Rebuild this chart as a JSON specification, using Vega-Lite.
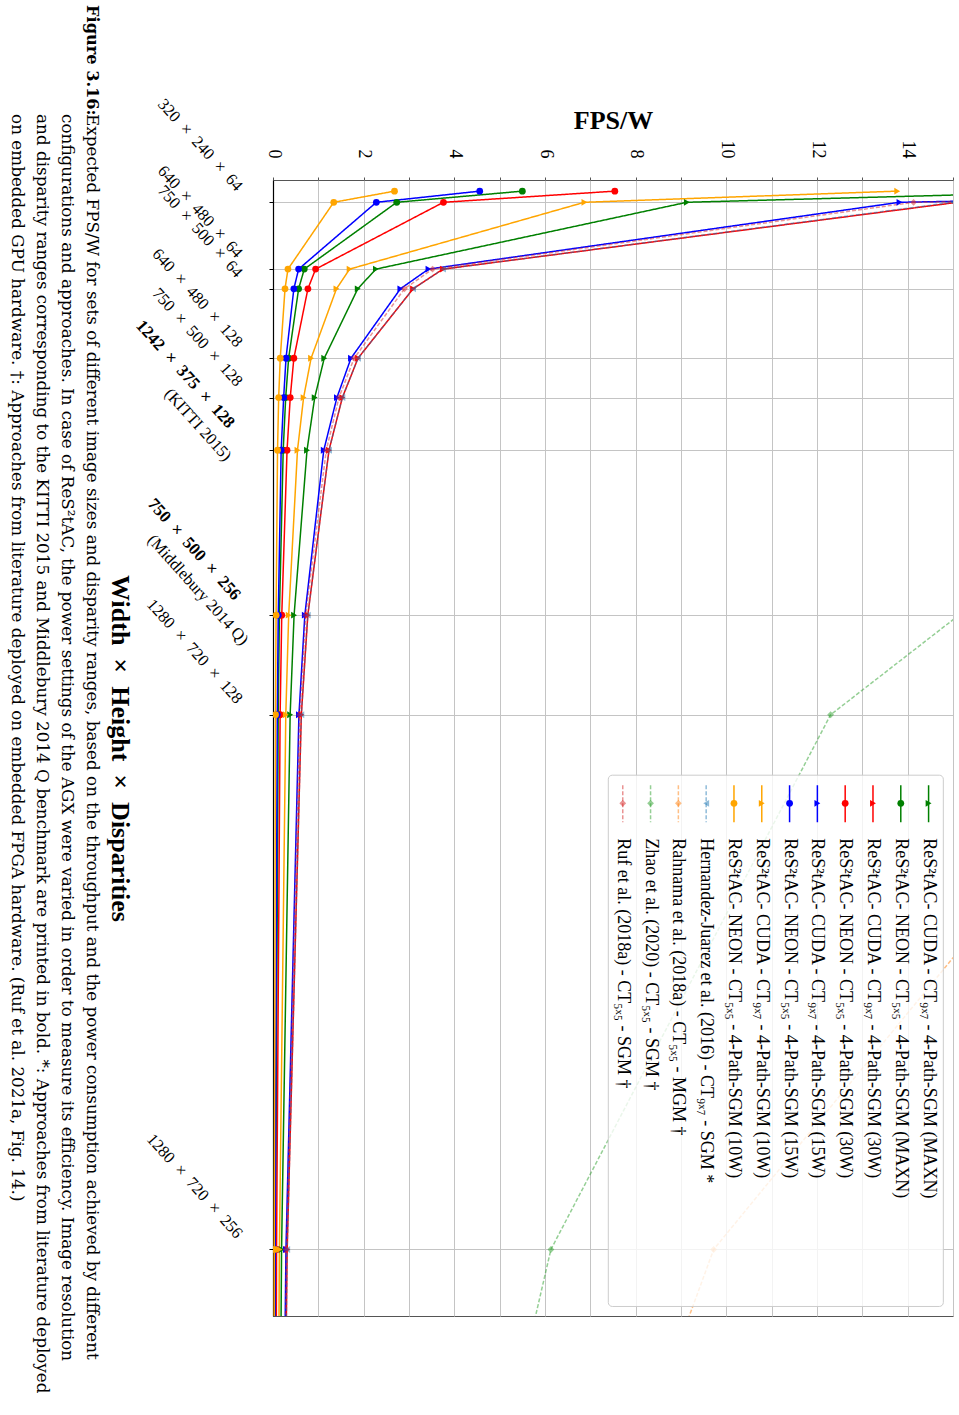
{
  "$schema": "https://vega.github.io/schema/vega-lite/v6.json",
  "width": 680,
  "height": 1136,
  "autosize": {"type": "none"},
  "padding": {"left": 273, "top": 180, "right": 6, "bottom": 99},
  "background": "white",
  "config": {
    "view": {"stroke": "#555555", "strokeWidth": 1},
    "font": "Liberation Serif"
  },
  "title": {
    "text": "Figure 3.16:",
    "subtitle": [
      "\u200b\u2002\u2002\u2002\u2002\u2002\u2002\u2002\u2002\u2002\u2002\u2002\u2002\u2002Expected FPS/W for sets of different image sizes and disparity ranges, based on the throughput and the power consumption achieved by different",
      "\u200b\u2002\u2002\u2002\u2002\u2002\u2002\u2002\u2002\u2002\u2002\u2002\u2002\u2002configurations and approaches. In case of ReS\u00b2tAC, the power settings of the AGX were varied in order to measure its efficiency. Image resolution",
      "\u200b\u2002\u2002\u2002\u2002\u2002\u2002\u2002\u2002\u2002\u2002\u2002\u2002\u2002and disparity ranges corresponding to the KITTI 2015 and Middlebury 2014 Q benchmark are printed in bold. *: Approaches from literature deployed",
      "\u200b\u2002\u2002\u2002\u2002\u2002\u2002\u2002\u2002\u2002\u2002\u2002\u2002\u2002on embedded GPU hardware. \u2020: Approaches from literature deployed on embedded FPGA hardware. (Ruf et al. 2021a, Fig. 14.)"
    ],
    "orient": "left",
    "anchor": "end",
    "align": "left",
    "angle": 90,
    "frame": "group",
    "dx": -175,
    "offset": -85,
    "font": "DejaVu Serif",
    "fontSize": 16.2,
    "fontWeight": "bold",
    "color": "black",
    "subtitleFont": "DejaVu Serif",
    "subtitleFontSize": 16.8,
    "subtitleColor": "black",
    "subtitleLineHeight": 25,
    "subtitlePadding": -16
  },
  "datasets": {
    "main": [
      {"s": "cuda_maxn", "d": 2.4576, "v": 18.2},
      {"s": "cuda_maxn", "d": 4.9152, "v": 9.13},
      {"s": "cuda_maxn", "d": 19.6608, "v": 2.27},
      {"s": "cuda_maxn", "d": 24, "v": 1.87},
      {"s": "cuda_maxn", "d": 39.3216, "v": 1.13},
      {"s": "cuda_maxn", "d": 48, "v": 0.92},
      {"s": "cuda_maxn", "d": 59.616, "v": 0.75},
      {"s": "cuda_maxn", "d": 96, "v": 0.465},
      {"s": "cuda_maxn", "d": 117.9648, "v": 0.378},
      {"s": "cuda_maxn", "d": 235.9296, "v": 0.189},
      {"s": "cuda_maxn", "d": 265.4208, "v": 0.168},
      {"s": "neon_maxn", "d": 2.4576, "v": 5.5},
      {"s": "neon_maxn", "d": 4.9152, "v": 2.73},
      {"s": "neon_maxn", "d": 19.6608, "v": 0.69},
      {"s": "neon_maxn", "d": 24, "v": 0.565},
      {"s": "neon_maxn", "d": 39.3216, "v": 0.345},
      {"s": "neon_maxn", "d": 48, "v": 0.28},
      {"s": "neon_maxn", "d": 59.616, "v": 0.225},
      {"s": "neon_maxn", "d": 96, "v": 0.141},
      {"s": "neon_maxn", "d": 117.9648, "v": 0.115},
      {"s": "neon_maxn", "d": 235.9296, "v": 0.0575},
      {"s": "neon_maxn", "d": 265.4208, "v": 0.051},
      {"s": "cuda_30", "d": 2.4576, "v": 30.0},
      {"s": "cuda_30", "d": 4.9152, "v": 15.1},
      {"s": "cuda_30", "d": 19.6608, "v": 3.75},
      {"s": "cuda_30", "d": 24, "v": 3.09},
      {"s": "cuda_30", "d": 39.3216, "v": 1.875},
      {"s": "cuda_30", "d": 48, "v": 1.53},
      {"s": "cuda_30", "d": 59.616, "v": 1.235},
      {"s": "cuda_30", "d": 96, "v": 0.768},
      {"s": "cuda_30", "d": 117.9648, "v": 0.625},
      {"s": "cuda_30", "d": 235.9296, "v": 0.3125},
      {"s": "cuda_30", "d": 265.4208, "v": 0.278},
      {"s": "neon_30", "d": 2.4576, "v": 7.54},
      {"s": "neon_30", "d": 4.9152, "v": 3.76},
      {"s": "neon_30", "d": 19.6608, "v": 0.94},
      {"s": "neon_30", "d": 24, "v": 0.77},
      {"s": "neon_30", "d": 39.3216, "v": 0.46},
      {"s": "neon_30", "d": 48, "v": 0.38},
      {"s": "neon_30", "d": 59.616, "v": 0.31},
      {"s": "neon_30", "d": 96, "v": 0.193},
      {"s": "neon_30", "d": 117.9648, "v": 0.157},
      {"s": "neon_30", "d": 235.9296, "v": 0.078},
      {"s": "neon_30", "d": 265.4208, "v": 0.07},
      {"s": "cuda_15", "d": 2.4576, "v": 27.5},
      {"s": "cuda_15", "d": 4.9152, "v": 13.82},
      {"s": "cuda_15", "d": 19.6608, "v": 3.43},
      {"s": "cuda_15", "d": 24, "v": 2.81},
      {"s": "cuda_15", "d": 39.3216, "v": 1.72},
      {"s": "cuda_15", "d": 48, "v": 1.41},
      {"s": "cuda_15", "d": 59.616, "v": 1.12},
      {"s": "cuda_15", "d": 96, "v": 0.702},
      {"s": "cuda_15", "d": 117.9648, "v": 0.572},
      {"s": "cuda_15", "d": 235.9296, "v": 0.286},
      {"s": "cuda_15", "d": 265.4208, "v": 0.254},
      {"s": "neon_15", "d": 2.4576, "v": 4.56},
      {"s": "neon_15", "d": 4.9152, "v": 2.28},
      {"s": "neon_15", "d": 19.6608, "v": 0.565},
      {"s": "neon_15", "d": 24, "v": 0.46},
      {"s": "neon_15", "d": 39.3216, "v": 0.287},
      {"s": "neon_15", "d": 48, "v": 0.235},
      {"s": "neon_15", "d": 59.616, "v": 0.18},
      {"s": "neon_15", "d": 96, "v": 0.116},
      {"s": "neon_15", "d": 117.9648, "v": 0.094},
      {"s": "neon_15", "d": 235.9296, "v": 0.047},
      {"s": "neon_15", "d": 265.4208, "v": 0.042},
      {"s": "cuda_10", "d": 2.4576, "v": 13.77},
      {"s": "cuda_10", "d": 4.9152, "v": 6.87},
      {"s": "cuda_10", "d": 19.6608, "v": 1.69},
      {"s": "cuda_10", "d": 24, "v": 1.4},
      {"s": "cuda_10", "d": 39.3216, "v": 0.84},
      {"s": "cuda_10", "d": 48, "v": 0.675},
      {"s": "cuda_10", "d": 59.616, "v": 0.54},
      {"s": "cuda_10", "d": 96, "v": 0.346},
      {"s": "cuda_10", "d": 117.9648, "v": 0.282},
      {"s": "cuda_10", "d": 235.9296, "v": 0.141},
      {"s": "cuda_10", "d": 265.4208, "v": 0.125},
      {"s": "neon_10", "d": 2.4576, "v": 2.68},
      {"s": "neon_10", "d": 4.9152, "v": 1.34},
      {"s": "neon_10", "d": 19.6608, "v": 0.33},
      {"s": "neon_10", "d": 24, "v": 0.265},
      {"s": "neon_10", "d": 39.3216, "v": 0.16},
      {"s": "neon_10", "d": 48, "v": 0.125},
      {"s": "neon_10", "d": 59.616, "v": 0.1},
      {"s": "neon_10", "d": 96, "v": 0.068},
      {"s": "neon_10", "d": 117.9648, "v": 0.055},
      {"s": "neon_10", "d": 235.9296, "v": 0.0275},
      {"s": "neon_10", "d": 265.4208, "v": 0.024},
      {"s": "hernandez", "d": 2.4576, "v": 30.0},
      {"s": "hernandez", "d": 4.9152, "v": 15.0},
      {"s": "hernandez", "d": 19.6608, "v": 3.75},
      {"s": "hernandez", "d": 24, "v": 3.09},
      {"s": "hernandez", "d": 39.3216, "v": 1.875},
      {"s": "hernandez", "d": 48, "v": 1.53},
      {"s": "hernandez", "d": 59.616, "v": 1.235},
      {"s": "hernandez", "d": 96, "v": 0.768},
      {"s": "hernandez", "d": 117.9648, "v": 0.625},
      {"s": "hernandez", "d": 235.9296, "v": 0.3125},
      {"s": "hernandez", "d": 265.4208, "v": 0.278},
      {"s": "rahnama", "d": 117.9648, "v": 19.4},
      {"s": "rahnama", "d": 235.9296, "v": 9.72},
      {"s": "rahnama", "d": 265.4208, "v": 8.64},
      {"s": "zhao", "d": 96, "v": 15.13},
      {"s": "zhao", "d": 117.9648, "v": 12.3},
      {"s": "zhao", "d": 235.9296, "v": 6.13},
      {"s": "zhao", "d": 265.4208, "v": 5.45},
      {"s": "ruf", "d": 2.4576, "v": 28.2},
      {"s": "ruf", "d": 4.9152, "v": 14.13},
      {"s": "ruf", "d": 19.6608, "v": 3.52},
      {"s": "ruf", "d": 24, "v": 2.9},
      {"s": "ruf", "d": 39.3216, "v": 1.79},
      {"s": "ruf", "d": 48, "v": 1.455},
      {"s": "ruf", "d": 59.616, "v": 1.175},
      {"s": "ruf", "d": 96, "v": 0.721},
      {"s": "ruf", "d": 117.9648, "v": 0.587},
      {"s": "ruf", "d": 235.9296, "v": 0.293},
      {"s": "ruf", "d": 265.4208, "v": 0.26}
    ],
    "legend": [
      {"s": "cuda_maxn", "k": 1, "label": "ReS\u00b2tAC- CUDA - CT\u2089\u2093\u2087 - 4-Path-SGM (MAXN)"},
      {"s": "neon_maxn", "k": 2, "label": "ReS\u00b2tAC- NEON - CT\u2085\u2093\u2085 - 4-Path-SGM (MAXN)"},
      {"s": "cuda_30", "k": 3, "label": "ReS\u00b2tAC- CUDA - CT\u2089\u2093\u2087 - 4-Path-SGM (30W)"},
      {"s": "neon_30", "k": 4, "label": "ReS\u00b2tAC- NEON - CT\u2085\u2093\u2085 - 4-Path-SGM (30W)"},
      {"s": "cuda_15", "k": 5, "label": "ReS\u00b2tAC- CUDA - CT\u2089\u2093\u2087 - 4-Path-SGM (15W)"},
      {"s": "neon_15", "k": 6, "label": "ReS\u00b2tAC- NEON - CT\u2085\u2093\u2085 - 4-Path-SGM (15W)"},
      {"s": "cuda_10", "k": 7, "label": "ReS\u00b2tAC- CUDA - CT\u2089\u2093\u2087 - 4-Path-SGM (10W)"},
      {"s": "neon_10", "k": 8, "label": "ReS\u00b2tAC- NEON - CT\u2085\u2093\u2085 - 4-Path-SGM (10W)"},
      {"s": "hernandez", "k": 9, "label": "Hernandez-Juarez et al. (2016) - CT\u2089\u2093\u2087 - SGM *"},
      {"s": "rahnama", "k": 10, "label": "Rahnama et al. (2018a) - CT\u2085\u2093\u2085 - MGM \u2020"},
      {"s": "zhao", "k": 11, "label": "Zhao et al. (2020) - CT\u2085\u2093\u2085 - SGM \u2020"},
      {"s": "ruf", "k": 12, "label": "Ruf et al. (2018a) - CT\u2085\u2093\u2085 - SGM \u2020"}
    ]
  },
  "resolve": {"scale": {"x": "independent"}, "axis": {"x": "independent", "y": "independent"}},
  "layer": [
    {
      "data": {"name": "main"},
      "encoding": {
        "x": {
          "field": "v", "type": "quantitative",
          "scale": {"domain": [0, 15], "nice": false, "zero": false},
          "axis": {
            "orient": "top",
            "values": [0, 1, 2, 3, 4, 5, 6, 7, 8, 9, 10, 11, 12, 13, 14, 15],
            "labelExpr": "datum.value % 2 === 0 && datum.value < 15 ? datum.label : ''",
            "labelAngle": 90, "labelAlign": "right", "labelBaseline": "middle",
            "labelFont": "Liberation Serif", "labelFontSize": 18, "labelColor": "black",
            "labelPadding": 19, "labelFlush": false, "labelOverlap": false, "labelBound": false,
            "tickSize": 3, "tickColor": "#555555",
            "domain": false,
            "grid": true, "gridColor": "#c4c4c4", "gridWidth": 1,
            "title": "FPS/W", "titleFont": "Liberation Serif", "titleFontSize": 26,
            "titleFontWeight": "bold", "titleColor": "black", "titlePadding": 7
          }
        },
        "y": {
          "field": "d", "type": "quantitative",
          "scale": {"domain": [0, 250.6], "nice": false, "zero": false, "reverse": true},
          "axis": {
            "orient": "left",
            "values": [4.9152, 19.6608, 24, 39.3216, 48, 59.616, 96, 117.9648, 235.9296],
            "labelExpr": "datum.value < 10 ? '320\u2002\u00d7\u2002240\u2002\u00d7\u200264' : datum.value < 20 ? '640\u2002\u00d7\u2002480\u2002\u00d7\u200264' : datum.value < 30 ? '750\u2002\u00d7\u2002500\u2002\u00d7\u200264' : datum.value < 40 ? '640\u2002\u00d7\u2002480\u2002\u00d7\u2002128' : datum.value < 50 ? '750\u2002\u00d7\u2002500\u2002\u00d7\u2002128' : datum.value < 100 ? '' : datum.value < 200 ? '1280\u2002\u00d7\u2002720\u2002\u00d7\u2002128' : '1280\u2002\u00d7\u2002720\u2002\u00d7\u2002256'",
            "labelAngle": 48, "labelAlign": "right", "labelBaseline": "middle",
            "labelFont": "Liberation Serif", "labelFontSize": 16.5, "labelColor": "black",
            "labelPadding": 30, "labelOffset": -14,
            "labelFlush": false, "labelOverlap": false, "labelBound": false, "labelLimit": 0,
            "tickSize": 4, "tickColor": "black",
            "domain": true, "domainColor": "black", "domainWidth": 1.2,
            "grid": true, "gridColor": "#c4c4c4", "gridWidth": 1,
            "title": "Width\u2002\u00d7\u2002Height\u2002\u00d7\u2002Disparities", "titleAngle": 90,
            "titleFont": "Liberation Serif", "titleFontSize": 26, "titleFontWeight": "bold",
            "titleColor": "black", "titlePadding": 36
          }
        }
      },
      "layer": [
        {
          "mark": {"type": "line", "clip": true, "strokeWidth": 1.5},
          "encoding": {
            "color": {"field": "s", "type": "nominal", "legend": null,
              "scale": {"domain": ["cuda_maxn", "neon_maxn", "cuda_30", "neon_30", "cuda_15", "neon_15", "cuda_10", "neon_10", "hernandez", "rahnama", "zhao", "ruf"],
                "range": ["#008000", "#008000", "#ff0000", "#ff0000", "#0000ff", "#0000ff", "#ffa500", "#ffa500", "rgba(31,119,180,0.5)", "rgba(255,127,14,0.5)", "rgba(44,160,44,0.5)", "rgba(214,39,40,0.5)"]}},
            "strokeDash": {"field": "s", "type": "nominal", "legend": null,
              "scale": {"domain": ["cuda_maxn", "neon_maxn", "cuda_30", "neon_30", "cuda_15", "neon_15", "cuda_10", "neon_10", "hernandez", "rahnama", "zhao", "ruf"],
                "range": [[1, 0], [1, 0], [1, 0], [1, 0], [1, 0], [1, 0], [1, 0], [1, 0], [4, 2], [4, 2], [4, 2], [4, 2]]}},
            "order": {"field": "d", "type": "quantitative"}
          }
        },
        {
          "mark": {"type": "point", "clip": true, "filled": true, "size": 46, "opacity": 1},
          "encoding": {
            "color": {"field": "s", "type": "nominal", "legend": null},
            "shape": {"field": "s", "type": "nominal", "legend": null,
              "scale": {"domain": ["cuda_maxn", "neon_maxn", "cuda_30", "neon_30", "cuda_15", "neon_15", "cuda_10", "neon_10", "hernandez", "rahnama", "zhao", "ruf"],
                "range": ["triangle-right", "circle", "triangle-right", "circle", "triangle-right", "circle", "triangle-right", "circle", "triangle-left", "diamond", "diamond", "diamond"]}}
          }
        }
      ]
    },
    {
      "data": {"values": [{"d": 59.616}]},
      "mark": {"type": "rule", "opacity": 0},
      "encoding": {
        "y": {
          "field": "d", "type": "quantitative",
          "axis": {
            "orient": "left", "values": [59.616], "labelExpr": "'1242\u2002\u00d7\u2002375\u2002\u00d7\u2002128'",
            "labelAngle": 48, "labelAlign": "right", "labelBaseline": "middle",
            "labelFont": "Liberation Serif", "labelFontSize": 17, "labelFontWeight": "bold", "labelColor": "black",
            "labelPadding": 42, "labelOffset": -25,
            "labelFlush": false, "labelOverlap": false, "labelBound": false, "labelLimit": 0,
            "ticks": false, "domain": false, "grid": false, "title": null
          }
        }
      }
    },
    {
      "data": {"values": [{"d": 59.616}]},
      "mark": {"type": "rule", "opacity": 0},
      "encoding": {
        "y": {
          "field": "d", "type": "quantitative",
          "axis": {
            "orient": "left", "values": [59.616], "labelExpr": "'(KITTI 2015)'",
            "labelAngle": 48, "labelAlign": "right", "labelBaseline": "middle",
            "labelFont": "Liberation Serif", "labelFontSize": 16.5, "labelColor": "black",
            "labelPadding": 45, "labelOffset": 8,
            "labelFlush": false, "labelOverlap": false, "labelBound": false, "labelLimit": 0,
            "ticks": false, "domain": false, "grid": false, "title": null
          }
        }
      }
    },
    {
      "data": {"values": [{"d": 96}]},
      "mark": {"type": "rule", "opacity": 0},
      "encoding": {
        "y": {
          "field": "d", "type": "quantitative",
          "axis": {
            "orient": "left", "values": [96], "labelExpr": "'750\u2002\u00d7\u2002500\u2002\u00d7\u2002256'",
            "labelAngle": 48, "labelAlign": "right", "labelBaseline": "middle",
            "labelFont": "Liberation Serif", "labelFontSize": 17, "labelFontWeight": "bold", "labelColor": "black",
            "labelPadding": 36, "labelOffset": -18,
            "labelFlush": false, "labelOverlap": false, "labelBound": false, "labelLimit": 0,
            "ticks": false, "domain": false, "grid": false, "title": null
          }
        }
      }
    },
    {
      "data": {"values": [{"d": 96}]},
      "mark": {"type": "rule", "opacity": 0},
      "encoding": {
        "y": {
          "field": "d", "type": "quantitative",
          "axis": {
            "orient": "left", "values": [96], "labelExpr": "'(Middlebury 2014 Q)'",
            "labelAngle": 48, "labelAlign": "right", "labelBaseline": "middle",
            "labelFont": "Liberation Serif", "labelFontSize": 16.5, "labelColor": "black",
            "labelPadding": 28, "labelOffset": 27,
            "labelFlush": false, "labelOverlap": false, "labelBound": false, "labelLimit": 0,
            "ticks": false, "domain": false, "grid": false, "title": null
          }
        }
      }
    },
    {
      "layer": [
        {
          "data": {"values": [{"box": "legend"}]},
          "mark": {"type": "rect", "fill": "white", "fillOpacity": 0.8, "stroke": "#cccccc", "strokeWidth": 1, "cornerRadius": 4},
          "encoding": {
            "x": {"datum": 12.52, "type": "quantitative", "scale": {"domain": [0.122, 24.58], "reverse": true, "nice": false, "zero": false}, "axis": null},
            "x2": {"datum": 0.47},
            "y": {"datum": 131.3, "type": "quantitative", "axis": null},
            "y2": {"datum": 248.5}
          }
        },
        {
          "data": {"name": "legend"},
          "mark": {"type": "rule", "strokeWidth": 1.5},
          "encoding": {
            "x": {"field": "k", "type": "quantitative", "scale": {"domain": [0.122, 24.58], "reverse": true, "nice": false, "zero": false}, "axis": null},
            "y": {"datum": 133.5, "type": "quantitative", "axis": null},
            "y2": {"datum": 141.7},
            "color": {"field": "s", "type": "nominal", "legend": null},
            "strokeDash": {"field": "s", "type": "nominal", "legend": null}
          }
        },
        {
          "data": {"name": "legend"},
          "mark": {"type": "point", "filled": true, "size": 46, "opacity": 1},
          "encoding": {
            "x": {"field": "k", "type": "quantitative", "scale": {"domain": [0.122, 24.58], "reverse": true, "nice": false, "zero": false}, "axis": null},
            "y": {"datum": 137.5, "type": "quantitative", "axis": null},
            "color": {"field": "s", "type": "nominal", "legend": null},
            "shape": {"field": "s", "type": "nominal", "legend": null}
          }
        },
        {
          "data": {"name": "legend"},
          "mark": {"type": "text", "angle": 90, "align": "left", "baseline": "middle", "font": "Liberation Serif", "fontSize": 18, "color": "black"},
          "encoding": {
            "x": {"field": "k", "type": "quantitative", "scale": {"domain": [0.122, 24.58], "reverse": true, "nice": false, "zero": false}, "axis": null},
            "y": {"datum": 145.2, "type": "quantitative", "axis": null},
            "text": {"field": "label", "type": "nominal"}
          }
        }
      ]
    }
  ]
}
